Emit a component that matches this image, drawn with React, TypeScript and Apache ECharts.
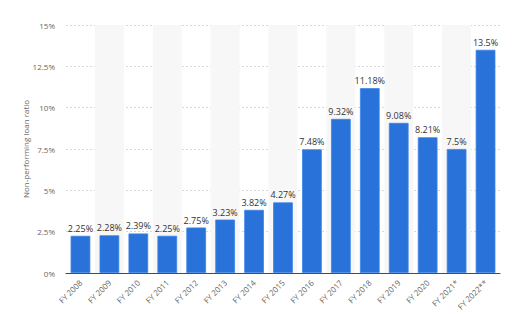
import React, { useEffect, useRef } from "react";
import * as echarts from "echarts";

const categories = [
  "FY 2008", "FY 2009", "FY 2010", "FY 2011", "FY 2012", "FY 2013", "FY 2014", "FY 2015",
  "FY 2016", "FY 2017", "FY 2018", "FY 2019", "FY 2020", "FY 2021*", "FY 2022**",
];
const npaRatio = [2.25, 2.28, 2.39, 2.25, 2.75, 3.23, 3.82, 4.27, 7.48, 9.32, 11.18, 9.08, 8.21, 7.5, 13.5];
const yTicks = [0, 2.5, 5, 7.5, 10, 12.5, 15];

export default function App() {
  const ref = useRef<HTMLDivElement>(null);
  useEffect(() => {
    document.body.style.margin = "0";
    if (!ref.current) return;
    const chart = echarts.init(ref.current, undefined, { renderer: "svg" });
    chart.setOption({
      animation: false,
      backgroundColor: "#ffffff",
      grid: { left: 66, right: 12, top: 25, bottom: 55, containLabel: false },
      xAxis: {
        type: "category",
        data: categories,
        axisLine: { lineStyle: { color: "#4a4a4a", width: 1 } },
        axisTick: { show: false },
        axisLabel: {
          rotate: 45,
          fontSize: 8,
          color: "#666",
          margin: 8,
          fontFamily: "Open Sans",
          interval: 0,
        },
        splitArea: { show: true, areaStyle: { color: ["rgba(0,0,0,0)", "#f7f7f7"] } },
      },
      yAxis: {
        type: "value",
        min: 0,
        max: 15,
        interval: 2.5,
        name: "Non-performing loan ratio",
        nameLocation: "middle",
        nameGap: 37,
        nameMoveOverlap: false,
        nameTextStyle: { fontSize: 8, color: "#666", fontFamily: "Open Sans" },
        axisLine: { show: false },
        axisTick: { show: false },
        axisLabel: {
          fontSize: 8,
          color: "#666",
          margin: 11,
          fontFamily: "Open Sans",
          formatter: (v: number) => (yTicks.includes(v) ? `${v}%` : ""),
        },
        splitLine: { lineStyle: { color: "#d8d8d8", type: [2, 2] } },
      },
      series: [
        {
          type: "bar",
          data: npaRatio,
          barWidth: "68%",
          itemStyle: { color: "#2872d9", borderColor: "#3d84e6", borderWidth: 0.8 },
          label: {
            show: true,
            position: "top",
            distance: 3,
            fontSize: 9,
            color: "#333",
            fontFamily: "Open Sans",
            formatter: (p: any) => `${p.value}%`,
          },
        },
      ],
    });
    return () => chart.dispose();
  }, []);
  return <div ref={ref} style={{ width: 512, height: 328 }} />;
}
